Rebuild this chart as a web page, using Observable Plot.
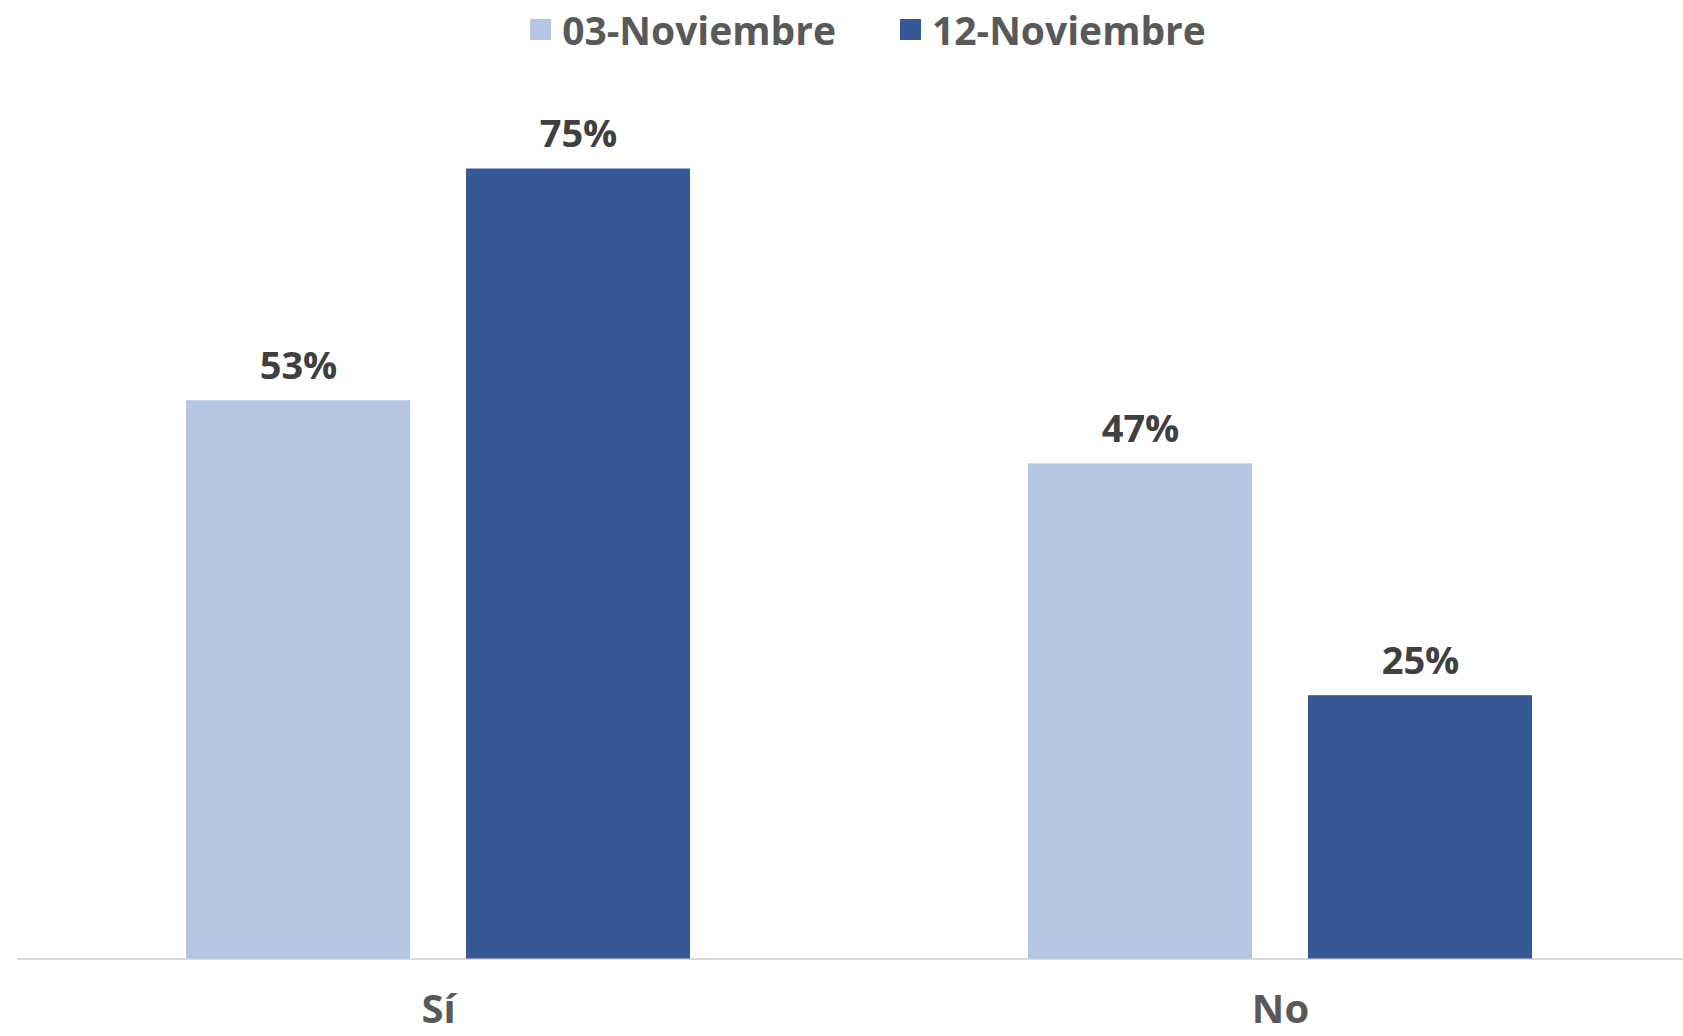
<!DOCTYPE html>
<html><head><meta charset="utf-8">
<script src="https://cdn.jsdelivr.net/npm/d3@7"></script>
<script src="https://cdn.jsdelivr.net/npm/@observablehq/plot@0.6"></script>
<style>
body{margin:0;background:#fff;overflow:hidden;font-family:'Open Sans',sans-serif;}
#legend{height:58px;display:flex;justify-content:center;align-items:center;padding-left:53px;gap:64px;font-weight:700;font-size:39px;color:#595959;}
.item{display:flex;align-items:center;gap:11px}
.sw{width:21px;height:21px;display:inline-block}
</style></head><body>
<div id="legend"></div><div id="chart"></div>
<script>
const categories = ["Sí", "No"];
const series = ["03-Noviembre", "12-Noviembre"];
const values03 = [53, 47];
const values12 = [75, 25];
const colors = ["#B4C6E4", "#365896"];

const data = [];
categories.forEach((c, i) => {
  data.push({cat: c, series: series[0], value: values03[i]});
  data.push({cat: c, series: series[1], value: values12[i]});
});

const legend = document.getElementById("legend");
series.forEach((s, i) => {
  const it = document.createElement("div");
  it.className = "item";
  it.innerHTML = `<span class="sw" style="background:${colors[i]}"></span><span>${s}</span>`;
  legend.appendChild(it);
});

const chart = Plot.plot({
  width: 1683,
  height: 978,
  marginLeft: 17,
  marginRight: -18,
  marginTop: 110.5,
  marginBottom: 77.5,
  style: {fontFamily: "'Open Sans', sans-serif", background: "#fff"},
  fx: {domain: categories, padding: 0, label: null},
  x: {domain: series, paddingInner: 0.2, paddingOuter: 0.6, axis: null},
  y: {domain: [0, 75], axis: null},
  color: {domain: series, range: colors},
  marks: [
    Plot.ruleY([0], {stroke: "#d9d9d9", strokeWidth: 2}),
    Plot.barY(data, {fx: "cat", x: "series", y: "value", fill: "series"}),
    Plot.text(data, {fx: "cat", x: "series", y: "value", text: d => d.value + "%", dy: -34,
      fontSize: 38, fontWeight: 700, fill: "#404040"}),
    Plot.axisFx({anchor: "bottom", tickSize: 0, tickPadding: 36, fontSize: 40, fontWeight: 700,
      color: "#595959", label: null})
  ]
});
document.getElementById("chart").appendChild(chart);
</script>
</body></html>
